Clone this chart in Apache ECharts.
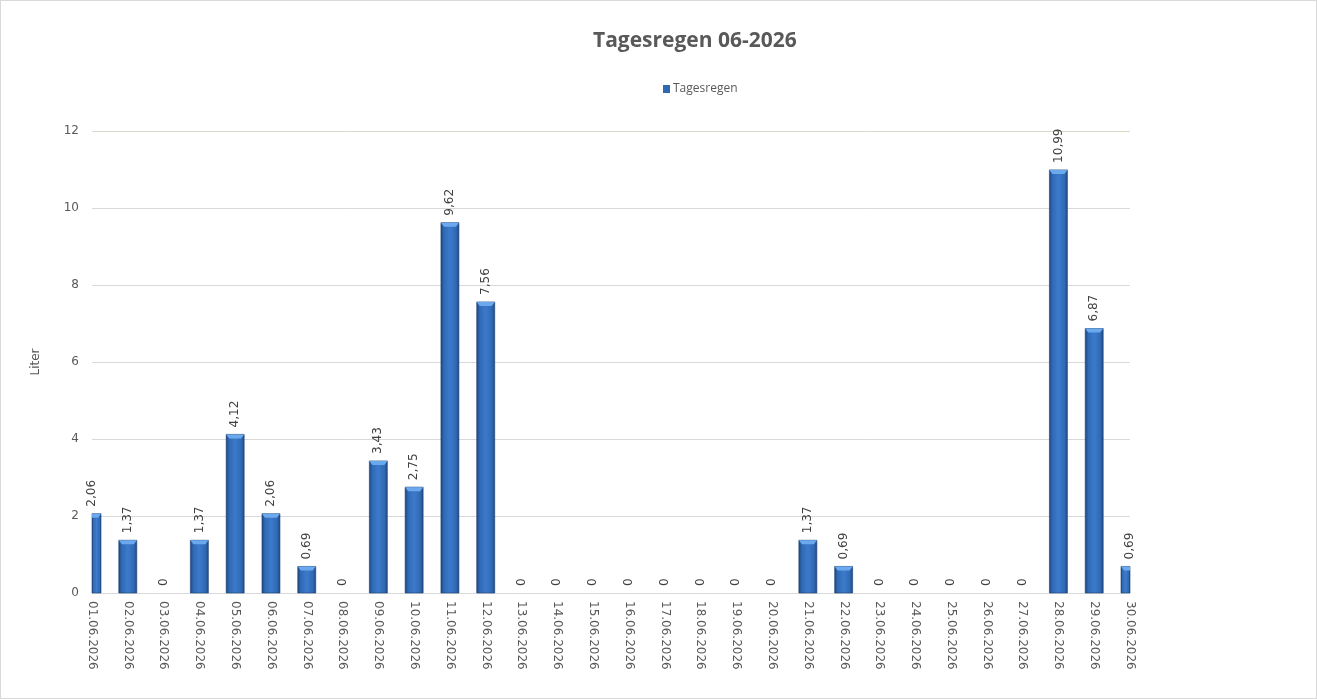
<!DOCTYPE html>
<html>
<head>
<meta charset="utf-8">
<title>Tagesregen 06-2026</title>
<script src="https://cdn.jsdelivr.net/npm/echarts@6/dist/echarts.min.js"></script>
<style>
  html, body { margin: 0; padding: 0; background: #fff; }
  #chart { width: 1317px; height: 699px; box-sizing: border-box; border: 1px solid #d9d9d9; }
</style>
</head>
<body>
<div id="chart"></div>
<script>
// Tage im Juni 2026
var days = [];
for (var d = 1; d <= 30; d++) {
  days.push((d < 10 ? '0' + d : d) + '.06.2026');
}

// Regenmenge pro Tag (Liter)
var rain = [
  2.06, 1.37, 0, 1.37, 4.12, 2.06, 0.69, 0, 3.43, 2.75,
  9.62, 7.56, 0, 0, 0, 0, 0, 0, 0, 0,
  1.37, 0.69, 0, 0, 0, 0, 0, 10.99, 6.87, 0.69
];

var yTicks = { min: 0, max: 12, step: 2 };

var chart = echarts.init(document.getElementById('chart'));

var BAR_W = 18;

var barColor = new echarts.graphic.LinearGradient(0, 0, 1, 0, [
  { offset: 0, color: '#1d447c' },
  { offset: 0.18, color: '#306ab6' },
  { offset: 0.5, color: '#3c7aca' },
  { offset: 0.82, color: '#306ab6' },
  { offset: 1, color: '#1f4880' }
]);

function fmt(v) {
  return v === 0 ? '0' : v.toFixed(2).replace('.', ',');
}

// Balken selbst zeichnen, damit die Randbalken am Diagrammrand abgeschnitten werden
function renderBar(params, api) {
  var idx = api.value(0);
  var val = api.value(1);
  var base = api.coord([idx, 0]);
  var top = api.coord([idx, val]);
  var cs = params.coordSys;
  var area = { x: cs.x, y: cs.y, width: cs.width, height: cs.height };
  var children = [];

  if (val > 0) {
    var rect = echarts.graphic.clipRectByRect({
      x: top[0] - BAR_W / 2, y: top[1], width: BAR_W, height: base[1] - top[1]
    }, area);
    if (rect) {
      children.push({
        type: 'rect',
        shape: rect,
        style: { fill: barColor, stroke: '#1b3f73', lineWidth: 0.6 }
      });
      // helle Abschrägung oben
      var l = rect.x, r = rect.x + rect.width;
      var bl = top[0] - BAR_W / 2 + 3, br = top[0] + BAR_W / 2 - 3;
      var pts = [[l, top[1]], [r, top[1]], [Math.min(r, br), top[1] + 4], [Math.max(l, bl), top[1] + 4]];
      children.push({
        type: 'polygon',
        shape: { points: pts },
        style: { fill: '#6ba9ee' }
      });
    }
  }

  children.push({
    type: 'text',
    x: top[0],
    y: top[1] - 7,
    rotation: Math.PI / 2,
    style: {
      text: fmt(val),
      align: 'left',
      verticalAlign: 'middle',
      fontFamily: 'DejaVu Sans',
      fontSize: 12,
      fill: '#404040'
    }
  });

  return { type: 'group', children: children };
}

var option = {
  backgroundColor: '#fff',
  title: {
    text: 'Tagesregen 06-2026',
    left: 587,
    top: 25,
    textStyle: {
      fontFamily: 'Open Sans',
      fontWeight: 'bold',
      fontSize: 21,
      color: '#595959'
    }
  },
  legend: {
    data: ['Tagesregen'],
    top: 77,
    left: 657,
    icon: 'rect',
    itemWidth: 7,
    itemHeight: 8,
    itemGap: 4,
    textStyle: { fontFamily: 'Open Sans', fontSize: 12, color: '#595959', padding: [0, 0, 0, -2] }
  },
  grid: { left: 91, right: 186, top: 130, bottom: 105 },
  xAxis: {
    type: 'category',
    data: days,
    boundaryGap: false,
    axisLine: { lineStyle: { color: '#d9d9d9' } },
    axisTick: { show: false },
    axisLabel: {
      rotate: -90,
      interval: 0,
      margin: 8,
      fontFamily: 'DejaVu Sans',
      fontSize: 12,
      color: '#595959'
    }
  },
  yAxis: {
    type: 'value',
    min: yTicks.min,
    max: yTicks.max,
    interval: yTicks.step,
    name: 'Liter',
    nameLocation: 'middle',
    nameRotate: 90,
    nameGap: 50,
    nameTextStyle: { fontFamily: 'DejaVu Sans', fontSize: 12, color: '#595959' },
    axisLine: { show: false },
    axisTick: { show: false },
    axisLabel: { margin: 13, fontFamily: 'DejaVu Sans', fontSize: 12, color: '#595959' },
    splitLine: {
      lineStyle: {
        color: ['#d9d9d9', '#d9d9d9', '#d9d9d9', '#d9d9d9', '#d9d9d9', '#d9d9d9', '#dcd9c6']
      }
    }
  },
  series: [
    {
      name: 'Tagesregen',
      type: 'custom',
      renderItem: renderBar,
      data: rain.map(function (v, i) { return [i, v]; }),
      encode: { x: 0, y: 1 },
      itemStyle: { color: '#3068b3' },
      z: 2
    }
  ]
};

chart.setOption(option);
</script>
</body>
</html>
